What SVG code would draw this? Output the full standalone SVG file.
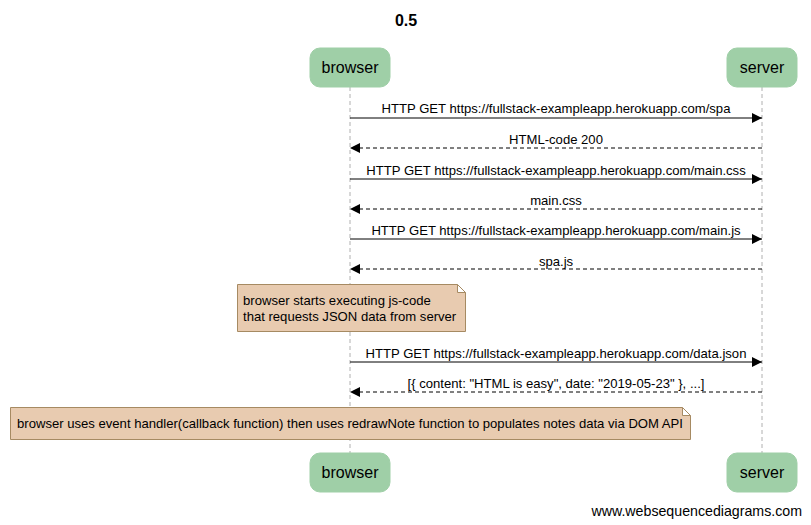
<svg xmlns="http://www.w3.org/2000/svg" width="811" height="525" viewBox="0 0 811 525">
<defs>
<style>
text{font-family:"Liberation Sans",Arial,sans-serif;fill:#000}
.actor rect{fill:#9fcfa7;stroke:#9fcfa7}
.actor text{font-size:16px;text-anchor:middle}
.life{stroke:#b0b0b0;stroke-dasharray:4,3;stroke-width:1}
.msg{stroke:#000;stroke-width:1;fill:none}
.ret{stroke-dasharray:4,3}
.lbl{font-size:13.1px;text-anchor:middle}
.note path{fill:#e8cbb0;stroke:#a68a62;stroke-width:1}
.note text{font-size:13.1px}
</style>
<marker id="ah" viewBox="0 0 10 10" refX="10" refY="5" markerWidth="10" markerHeight="10" markerUnits="userSpaceOnUse" orient="auto"><path d="M0,0L10,5L0,10z" fill="#000"/></marker>
</defs>
<rect width="811" height="525" fill="#fff"/>
<text x="406" y="26" style="font-size:16px;font-weight:bold;text-anchor:middle">0.5</text>
<g id="lifelines">
<line class="life" x1="350" y1="87" x2="350" y2="453"/>
<line class="life" x1="762" y1="87" x2="762" y2="453"/>
</g>
<g id="browser" class="actor"><rect x="310" y="48" width="80" height="39" rx="10"/><text x="350" y="73">browser</text></g>
<g id="server" class="actor"><rect x="727" y="48" width="70" height="39" rx="10"/><text x="762" y="73">server</text></g>
<g id="browser-bottom" class="actor"><rect x="310" y="453" width="80" height="39" rx="10"/><text x="350" y="478">browser</text></g>
<g id="server-bottom" class="actor"><rect x="727" y="453" width="70" height="39" rx="10"/><text x="762" y="478">server</text></g>
<g id="connectors">
<line class="msg" x1="350" y1="118" x2="762" y2="118" marker-end="url(#ah)"/>
<text class="lbl" x="556" y="113">HTTP GET https://fullstack-exampleapp.herokuapp.com/spa</text>
<line class="msg ret" x1="762" y1="148" x2="350" y2="148" marker-end="url(#ah)"/>
<text class="lbl" x="556" y="144">HTML-code 200</text>
<line class="msg" x1="350" y1="179" x2="762" y2="179" marker-end="url(#ah)"/>
<text class="lbl" x="556" y="175">HTTP GET https://fullstack-exampleapp.herokuapp.com/main.css</text>
<line class="msg ret" x1="762" y1="209" x2="350" y2="209" marker-end="url(#ah)"/>
<text class="lbl" x="556" y="205">main.css</text>
<line class="msg" x1="350" y1="239" x2="762" y2="239" marker-end="url(#ah)"/>
<text class="lbl" x="556" y="235">HTTP GET https://fullstack-exampleapp.herokuapp.com/main.js</text>
<line class="msg ret" x1="762" y1="269" x2="350" y2="269" marker-end="url(#ah)"/>
<text class="lbl" x="556" y="266">spa.js</text>
<line class="msg" x1="350" y1="362" x2="762" y2="362" marker-end="url(#ah)"/>
<text class="lbl" x="556" y="358">HTTP GET https://fullstack-exampleapp.herokuapp.com/data.json</text>
<line class="msg ret" x1="762" y1="392" x2="350" y2="392" marker-end="url(#ah)"/>
<text class="lbl" x="556" y="388">[{ content: "HTML is easy", date: "2019-05-23" }, ...]</text>
</g>
<g id="note1" class="note">
<path d="M237.5,284.5H457.5L465.5,292.5V331.5H237.5Z M457.5,284.5V292.5H465.5"/>
<text x="243" y="305">browser starts executing js-code</text>
<text x="243" y="321">that requests JSON data from server</text>
</g>
<g id="note2" class="note">
<path d="M10.5,407.5H682.5L690.5,415.5V439.5H10.5Z M682.5,407.5V415.5H690.5"/>
<text x="17" y="428">browser uses event handler(callback function) then uses redrawNote function to populates notes data via DOM API</text>
</g>
<text x="802" y="516" style="font-size:14.2px;text-anchor:end">www.websequencediagrams.com</text>
</svg>
